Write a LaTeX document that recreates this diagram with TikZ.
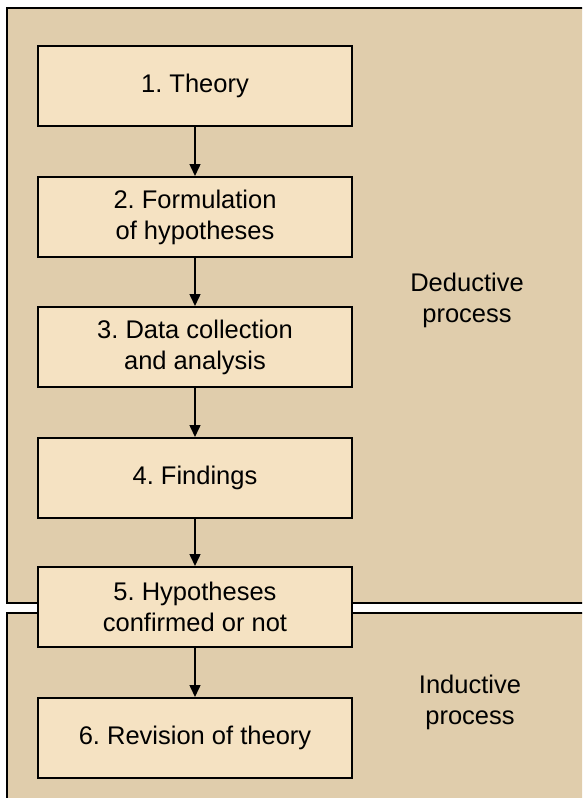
\documentclass[tikz,border=0pt]{standalone}
\usepackage{fontspec}
\setmainfont{Liberation Sans}
\usetikzlibrary{arrows.meta}
\definecolor{panelfill}{HTML}{E0CDAC}
\definecolor{boxfill}{HTML}{F5E2C2}
\frenchspacing
\begin{document}
\begin{tikzpicture}[x=1pt,y=-1pt,
  stepbox/.style={draw=black,line width=2pt,fill=boxfill,minimum width=314pt,minimum height=80pt,
    align=center,font=\fontsize{25.5}{31}\selectfont,inner sep=0pt},
  label/.style={align=center,font=\fontsize{25.5}{31}\selectfont},
  rim/.style={line width=2pt},
  flow/.style={line width=1.5pt,-{Triangle[length=12pt,width=11pt]}}]
\useasboundingbox (0,0) rectangle (582,798);
\fill[white] (0,0) rectangle (582,798);
\begin{scope}
\clip (0,0) rectangle (582,798);
% two process panels, open on the right and at the bottom
\fill[panelfill] (7,8) rectangle (606,603);
\fill[panelfill] (7,613) rectangle (606,810);
\draw[rim] (606,8) -- (7,8) -- (7,603) -- (606,603);
\draw[rim] (606,613) -- (7,613) -- (7,810);
\end{scope}
% steps
\node[stepbox] (s1) at (195,86) {1. Theory};
\node[stepbox] (s2) at (195,217) {2. Formulation\\of hypotheses};
\node[stepbox] (s3) at (195,347) {3. Data collection\\and analysis};
\node[stepbox] (s4) at (195,478) {4. Findings};
\node[stepbox] (s5) at (195,607) {5. Hypotheses\\confirmed or not};
\node[stepbox] (s6) at (195,738) {6. Revision of theory};
% process labels
\node[label] (ded) at (467,300) {Deductive\\process};
\node[label] (ind) at (470,702) {Inductive\\process};
% connectors
\draw[flow] (s1) -- (s2);
\draw[flow] (s2) -- (s3);
\draw[flow] (s3) -- (s4);
\draw[flow] (s4) -- (s5);
\draw[flow] (s5) -- (s6);
\end{tikzpicture}
\end{document}
